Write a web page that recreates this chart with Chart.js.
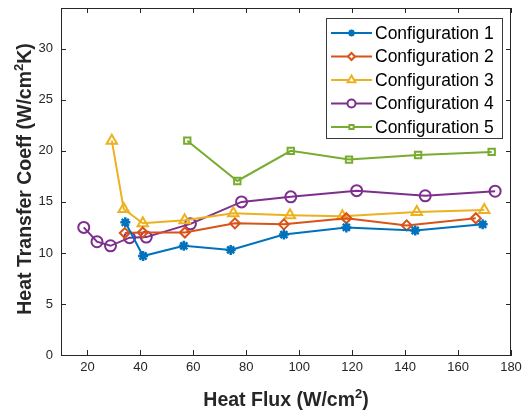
<!DOCTYPE html>
<html>
<head>
<meta charset="utf-8">
<script src="https://cdn.jsdelivr.net/npm/chart.js@4.4.1/dist/chart.umd.min.js"></script>
<style>
  html, body { margin: 0; padding: 0; background: #ffffff; }
  canvas { display: block; }
</style>
</head>
<body>
<canvas id="c" width="525" height="415"></canvas>
<script>
// Heat transfer coefficient vs. heat flux for five configurations
const seriesNames = ['Configuration 1', 'Configuration 2', 'Configuration 3', 'Configuration 4', 'Configuration 5'];

const flux1 = [34.3, 41.0, 56.4, 74.1, 94.2, 117.8, 143.8, 169.3];
const htc1  = [13.0, 9.7, 10.7, 10.3, 11.8, 12.5, 12.2, 12.8];

const flux2 = [34.1, 40.9, 56.8, 75.7, 94.2, 117.8, 140.6, 166.7];
const htc2  = [11.95, 12.0, 12.0, 12.9, 12.8, 13.4, 12.7, 13.4];

const flux3 = [29.2, 33.7, 40.9, 56.7, 75.1, 96.5, 116.3, 144.4, 169.9];
const htc3  = [21.0, 14.3, 12.9, 13.2, 13.9, 13.7, 13.6, 14.0, 14.2];

const flux4 = [18.6, 23.6, 28.7, 35.9, 42.2, 58.9, 78.2, 96.8, 121.7, 147.6, 174.0];
const htc4  = [12.5, 11.1, 10.7, 11.5, 11.55, 12.85, 15.0, 15.5, 16.1, 15.6, 16.05];

const flux5 = [57.7, 76.6, 96.8, 118.8, 144.9, 172.7];
const htc5  = [21.0, 17.05, 20.0, 19.15, 19.6, 19.9];

const xTicks = [20, 40, 60, 80, 100, 120, 140, 160, 180];
const yTicks = [0, 5, 10, 15, 20, 25, 30];

const colors = ['#0072BD', '#D95319', '#EDB120', '#7E2F8E', '#77AC30'];
const markers = ['star', 'rectRot', 'triangle', 'circle', 'rect'];
const markerRadius = [5, 5, 6, 5.5, 4.5];

const fluxes = [flux1, flux2, flux3, flux4, flux5];
const htcs = [htc1, htc2, htc3, htc4, htc5];

const FONT = '"Liberation Sans", Arial, Helvetica, sans-serif';
const INK = '#262626';

const datasets = seriesNames.map((name, i) => ({
  label: name,
  data: fluxes[i].map((x, j) => ({ x: x, y: htcs[i][j] })),
  showLine: true,
  borderColor: colors[i],
  backgroundColor: 'rgba(0,0,0,0)',
  borderWidth: 2,
  pointStyle: markers[i],
  pointRadius: markerRadius[i],
  pointBorderWidth: i === 0 ? 2.5 : 2,
  pointBorderColor: colors[i],
  pointBackgroundColor: 'rgba(0,0,0,0)',
  tension: 0
}));

// Box frame, inward tick marks, axis titles and legend
const framePlugin = {
  id: 'frame',
  afterDraw(chart) {
    const ctx = chart.ctx;
    const a = chart.chartArea;
    const xs = chart.scales.x, ys = chart.scales.y;
    ctx.save();
    ctx.strokeStyle = INK;
    ctx.lineWidth = 1;
    ctx.beginPath();
    ctx.moveTo(a.left, a.top + 0.5); ctx.lineTo(a.right, a.top + 0.5);
    ctx.moveTo(a.right - 0.5, a.top); ctx.lineTo(a.right - 0.5, a.bottom);
    const tl = 5;
    xTicks.forEach(v => {
      const px = Math.round(xs.getPixelForValue(v)) + 0.5;
      ctx.moveTo(px, a.bottom); ctx.lineTo(px, a.bottom - tl);
      ctx.moveTo(px, a.top); ctx.lineTo(px, a.top + tl);
    });
    yTicks.forEach(v => {
      const py = Math.round(ys.getPixelForValue(v)) + 0.5;
      ctx.moveTo(a.left, py); ctx.lineTo(a.left + tl, py);
      ctx.moveTo(a.right, py); ctx.lineTo(a.right - tl, py);
    });
    ctx.stroke();

    // axis titles
    ctx.fillStyle = INK;
    ctx.textBaseline = 'alphabetic';
    const drawTitle = (parts, cx, cy, rot) => {
      ctx.save();
      ctx.translate(cx, cy);
      ctx.rotate(rot);
      let total = 0;
      parts.forEach(p => { ctx.font = 'bold ' + p.size + 'px ' + FONT; total += ctx.measureText(p.t).width; });
      let x = -total / 2;
      parts.forEach(p => {
        ctx.font = 'bold ' + p.size + 'px ' + FONT;
        ctx.textAlign = 'left';
        ctx.fillText(p.t, x, 7 - (p.sup ? 8 : 0));
        x += ctx.measureText(p.t).width;
      });
      ctx.restore();
    };
    drawTitle([{ t: 'Heat Flux (W/cm', size: 19.5 }, { t: '2', size: 13, sup: true }, { t: ')', size: 19.5 }],
      (a.left + a.right) / 2, 399, 0);
    drawTitle([{ t: 'Heat Transfer Coeff (W/cm', size: 19.5 }, { t: '2', size: 13, sup: true }, { t: 'K)', size: 19.5 }],
      24, 179, -Math.PI / 2);

    // legend
    const lx = 326, ly = 18, lw = 176, lh = 120;
    ctx.fillStyle = '#ffffff';
    ctx.fillRect(lx, ly, lw, lh);
    ctx.strokeStyle = '#3a3a3a';
    ctx.lineWidth = 1;
    ctx.strokeRect(lx + 0.5, ly + 0.5, lw, lh);
    chart.data.datasets.forEach((ds, i) => {
      const cy = 33 + i * 23.5;
      ctx.strokeStyle = ds.borderColor;
      ctx.lineWidth = 2;
      ctx.beginPath();
      ctx.moveTo(331, cy); ctx.lineTo(372, cy);
      ctx.stroke();
      ctx.fillStyle = '#ffffff';
      ctx.strokeStyle = ds.borderColor;
      ctx.lineWidth = 2;
      Chart.helpers.drawPoint(ctx, {
        pointStyle: ds.pointStyle,
        radius: Math.max(3, ds.pointRadius - 1.5),
        borderWidth: 2,
        rotation: 0
      }, 351.5, cy);
      ctx.fillStyle = '#000000';
      ctx.font = '17.5px ' + FONT;
      ctx.textAlign = 'left';
      ctx.textBaseline = 'middle';
      ctx.fillText(ds.label, 375, cy + 1);
    });
    ctx.restore();
  }
};

new Chart(document.getElementById('c'), {
  type: 'scatter',
  data: { datasets: datasets },
  options: {
    responsive: false,
    animation: false,
    devicePixelRatio: 1,
    layout: { padding: { left: 0, right: 14, top: 7, bottom: 0 } },
    plugins: { legend: { display: false }, tooltip: { enabled: false } },
    scales: {
      x: {
        type: 'linear',
        min: 10, max: 180,
        afterBuildTicks(s) { s.ticks = xTicks.map(v => ({ value: v })); },
        afterFit(s) { s.height = 60; s.paddingLeft = 0; s.paddingRight = 0; },
        grid: { display: false, tickLength: 0 },
        border: { display: true, color: INK, width: 1 },
        ticks: { color: INK, padding: 5, maxRotation: 0, autoSkip: false, font: { family: FONT, size: 13 } }
      },
      y: {
        type: 'linear',
        min: 0, max: 34,
        afterBuildTicks(s) { s.ticks = yTicks.map(v => ({ value: v })); },
        afterFit(s) { s.width = 61; s.paddingTop = 0; s.paddingBottom = 0; },
        grid: { display: false, tickLength: 0 },
        border: { display: true, color: INK, width: 1 },
        ticks: { color: INK, padding: 8, autoSkip: false, font: { family: FONT, size: 13 } }
      }
    }
  },
  plugins: [framePlugin]
});
</script>
</body>
</html>
